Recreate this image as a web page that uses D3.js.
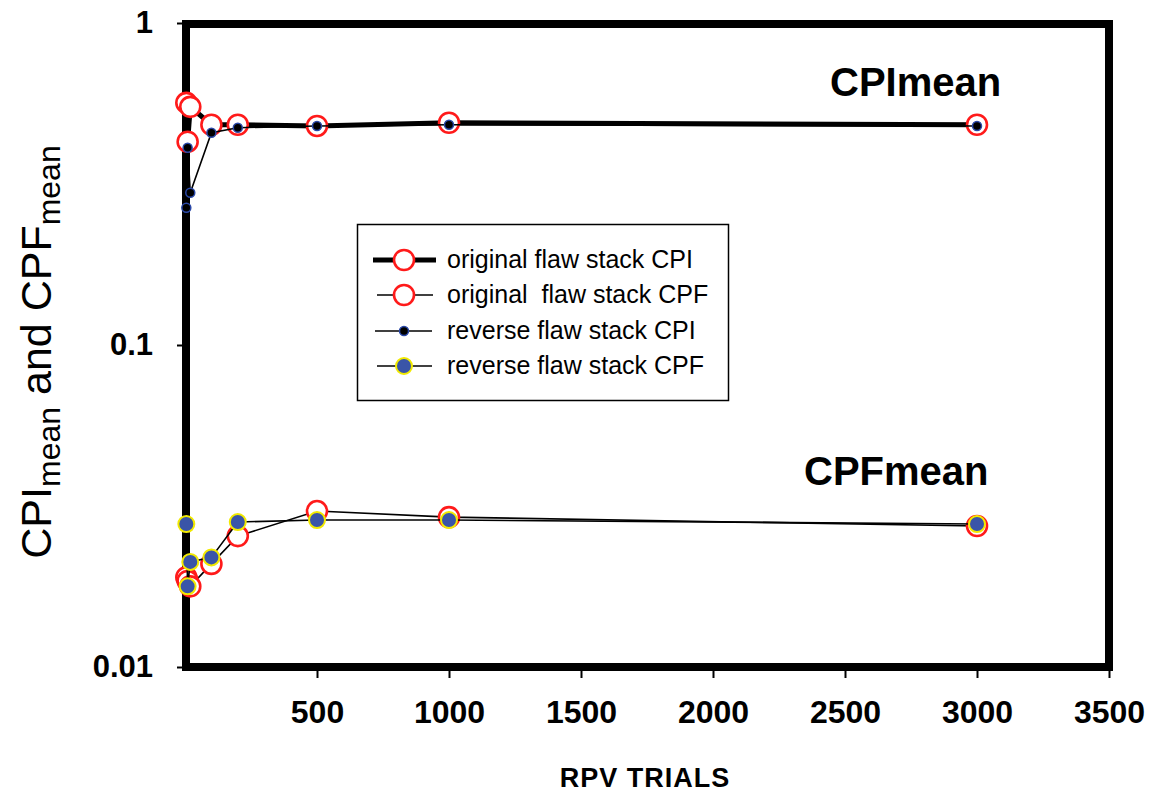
<!DOCTYPE html>
<html>
<head>
<meta charset="utf-8">
<script src="https://cdn.jsdelivr.net/npm/d3@7"></script>
<style>
    body { margin: 0; background: #fff; }
    svg { display: block; font-family: Arial, "Liberation Sans", sans-serif; }
</style>
</head>
<body>
<div id="chart"></div>
<script>

// RPV trials (x) and the four series (y, log scale)
const trials  = [5, 10, 20, 100, 200, 500, 1000, 3000];
const origCPI = [0.565, 0.428, 0.549, 0.483, 0.483, 0.479, 0.490, 0.483];
const origCPF = [0.0190, 0.0185, 0.0178, 0.0209, 0.0255, 0.0305, 0.0292, 0.0274];
const revCPI  = [0.267, 0.410, 0.297, 0.456, 0.473, 0.479, 0.483, 0.479];
const revCPF  = [0.0278, 0.0178, 0.0212, 0.0219, 0.0282, 0.0286, 0.0286, 0.0278];

const xTicks = [500, 1000, 1500, 2000, 2500, 3000, 3500];
const yTicks = [0.01, 0.1, 1];
const yTickLabels = ["0.01", "0.1", "1"];

const legendLabels = [
    "original flaw stack CPI",
    "original  flaw stack CPF",
    "reverse flaw stack CPI",
    "reverse flaw stack CPF"
];

class TrialsChart {
    constructor(_parentElement) {
        this.parentElement = _parentElement;
        this.initVis();
    }

    initVis() {
        let vis = this;

        vis.svg = d3.select("#" + vis.parentElement).append("svg")
            .attr("width", 1156)
            .attr("height", 793);

        vis.x = d3.scaleLinear().domain([0, 3500]).range([185, 1109]);
        vis.y = d3.scaleLog().domain([0.01, 1]).range([667, 23]);

        vis.series = [
            { values: origCPI, width: 5,   marker: "orig" },
            { values: origCPF, width: 1.6, marker: "orig" },
            { values: revCPI,  width: 1.6, marker: "revCPI" },
            { values: revCPF,  width: 1.6, marker: "revCPF" }
        ];

        vis.drawAxes();
        vis.drawSeries();
        vis.drawLegend();
        vis.drawLabels();
    }

    drawAxes() {
        let vis = this;

        // x ticks hang under the frame
        vis.svg.append("g")
            .attr("transform", `translate(0, ${vis.y(0.01)})`)
            .call(d3.axisBottom(vis.x).tickValues(xTicks).tickFormat(d3.format("d"))
                .tickSize(11).tickSizeOuter(0).tickPadding(22))
            .call(g => g.select(".domain").remove())
            .call(g => g.selectAll("line").attr("stroke", "#000").attr("stroke-width", 2))
            .call(g => g.selectAll("text")
                .attr("fill", "#000")
                .style("font-size", "32px")
                .style("font-weight", "bold"));

        vis.svg.append("g")
            .attr("transform", `translate(${vis.x(0)}, 0)`)
            .call(d3.axisLeft(vis.y).tickValues(yTicks).tickSize(8).tickPadding(24)
                .tickFormat((d, i) => yTickLabels[i]))
            .call(g => g.select(".domain").remove())
            .call(g => g.selectAll("line").attr("stroke", "#000").attr("stroke-width", 2))
            .call(g => g.selectAll("text")
                .attr("fill", "#000")
                .style("font-size", "31px")
                .style("font-weight", "bold"));

        // heavy frame
        vis.svg.append("rect")
            .attr("x", vis.x(0) + 1)
            .attr("y", vis.y(1) + 1)
            .attr("width", vis.x(3500) - vis.x(0) - 1)
            .attr("height", vis.y(0.01) - vis.y(1) - 1)
            .attr("fill", "none")
            .attr("stroke", "#000")
            .attr("stroke-width", 8);
    }

    drawSeries() {
        let vis = this;

        let line = d3.line()
            .x((d, i) => vis.x(trials[i]))
            .y(d => vis.y(d));

        vis.series.forEach(s => {
            vis.svg.append("path")
                .datum(s.values)
                .attr("fill", "none")
                .attr("stroke", "#000")
                .attr("stroke-width", s.width)
                .attr("d", line);

            vis.svg.selectAll(null)
                .data(s.values)
                .enter()
                .append("circle")
                .attr("cx", (d, i) => vis.x(trials[i]))
                .attr("cy", d => vis.y(d))
                .call(c => vis.styleMarker(c, s.marker));
        });
    }

    styleMarker(sel, type) {
        if (type === "orig") {
            sel.attr("r", 10).attr("fill", "#fff").attr("stroke", "#ff1a1a").attr("stroke-width", 2.6);
        } else if (type === "revCPI") {
            sel.attr("r", 4.5).attr("fill", "#000").attr("stroke", "#2a48a8").attr("stroke-width", 1.5);
        } else {
            sel.attr("r", 8).attr("fill", "#3a55a8").attr("stroke", "#f2ea00").attr("stroke-width", 2);
        }
    }

    drawLegend() {
        let vis = this;

        let lg = vis.svg.append("g");

        lg.append("rect")
            .attr("x", 357.5)
            .attr("y", 224.5)
            .attr("width", 371)
            .attr("height", 176)
            .attr("fill", "#fff")
            .attr("stroke", "#000")
            .attr("stroke-width", 1.5);

        let rows = [260, 295, 331, 366];
        let lineEnds = [[373, 436], [377, 433], [375, 432], [377, 432]];

        vis.series.forEach((s, i) => {
            lg.append("line")
                .attr("x1", lineEnds[i][0])
                .attr("x2", lineEnds[i][1])
                .attr("y1", rows[i])
                .attr("y2", rows[i])
                .attr("stroke", "#000")
                .attr("stroke-width", s.width);

            lg.append("circle")
                .attr("cx", 404)
                .attr("cy", rows[i])
                .call(c => vis.styleMarker(c, s.marker));

            lg.append("text")
                .attr("x", 447)
                .attr("y", rows[i] + 8)
                .style("font-size", "25px")
                .style("white-space", "pre")
                .attr("fill", "#000")
                .text(legendLabels[i]);
        });
    }

    drawLabels() {
        let vis = this;

        vis.svg.append("text")
            .attr("x", 830)
            .attr("y", 96)
            .style("font-size", "40px")
            .style("font-weight", "bold")
            .text("CPImean");

        vis.svg.append("text")
            .attr("x", 804)
            .attr("y", 485)
            .style("font-size", "40px")
            .style("font-weight", "bold")
            .text("CPFmean");

        vis.svg.append("text")
            .attr("x", 645)
            .attr("y", 787)
            .attr("text-anchor", "middle")
            .style("font-size", "27px")
            .style("font-weight", "bold")
            .style("letter-spacing", "1px")
            .text("RPV TRIALS");

        // y title with subscripts
        let yt = vis.svg.append("text")
            .attr("transform", "translate(51, 352) rotate(-90)")
            .attr("text-anchor", "middle")
            .style("font-size", "43px");

        yt.append("tspan").text("CPI");
        yt.append("tspan").attr("dy", 9).style("font-size", "32px").text("mean");
        yt.append("tspan").attr("dy", -9).text(" and CPF");
        yt.append("tspan").attr("dy", 9).style("font-size", "32px").text("mean");
    }
}

new TrialsChart("chart");

</script>
</body>
</html>
